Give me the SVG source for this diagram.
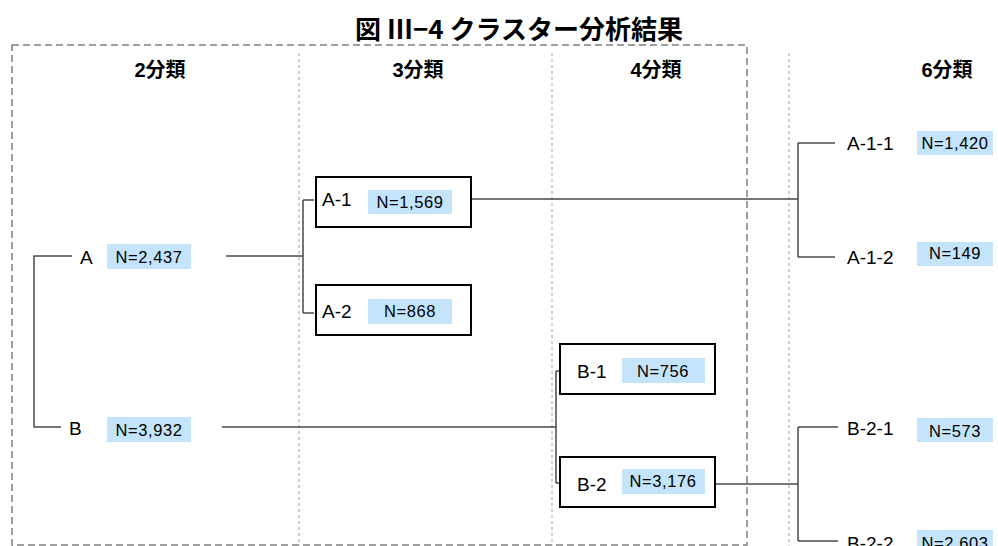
<svg xmlns="http://www.w3.org/2000/svg" width="998" height="546" viewBox="0 0 998 546">
<style>
.title{font-family:"Noto Sans CJK JP","Liberation Sans",sans-serif;font-weight:bold;font-size:26px;fill:#000}
.hdr{font-family:"Liberation Sans","Noto Sans CJK JP",sans-serif;font-weight:bold;font-size:20px;fill:#000;text-anchor:middle}
.nm{font-family:"Liberation Sans",Arial,sans-serif;font-size:19px;fill:#000}
.cnt{font-family:"Liberation Sans",Arial,sans-serif;font-size:16.5px;letter-spacing:0.6px;fill:#000;text-anchor:middle}
.lab{fill:#c3e4fb}
.box{fill:#fff;stroke:#000;stroke-width:2}
.sep{stroke:#a0a0a0;stroke-width:1;stroke-dasharray:3 3;fill:none}
.frame{stroke:#808080;stroke-width:1.5;stroke-dasharray:7 4;fill:none}
.con{stroke:#4a4a4a;stroke-width:1.5;fill:none}
</style>
<rect width="998" height="546" fill="#fff"/>
<text class="title" x="519" y="39" text-anchor="middle">図 Ⅲ−4 クラスター分析結果</text>
<rect class="frame" x="12" y="45" width="735" height="500"/>
<g id="separators">
<line class="sep" x1="299" y1="53" x2="299" y2="546"/>
<line class="sep" x1="552" y1="53" x2="552" y2="546"/>
<line class="sep" x1="789" y1="53" x2="789" y2="546"/>
</g>
<g id="headers">
<text class="hdr" x="160" y="77">2分類</text>
<text class="hdr" x="418" y="77">3分類</text>
<text class="hdr" x="656" y="77">4分類</text>
<text class="hdr" x="947" y="77">6分類</text>
</g>
<g id="connectors">
<path class="con" d="M72,256 H34 V427 H61"/>
<path class="con" d="M226,256 H303 M303,200 V313 M314,200 H303 M314,313 H303"/>
<path class="con" d="M452,199 H798 M798,143 V257 M835,143 H798 M835,257 H798"/>
<path class="con" d="M222,427 H556 M556,371 V483 M567,371 H556 M567,483 H556"/>
<path class="con" d="M715,484 H798 M798,427 V541 M838,427 H798 M838,541 H798"/>
</g>
<g id="node-A">
<text class="nm" x="80" y="264">A</text>
<rect class="lab" x="107" y="244" width="84" height="25"/>
<text class="cnt" x="149" y="263">N=2,437</text>
</g>
<g id="node-B">
<text class="nm" x="69" y="435">B</text>
<rect class="lab" x="107" y="417" width="84" height="25"/>
<text class="cnt" x="149" y="436">N=3,932</text>
</g>
<g id="node-A-1">
<rect class="box" x="316" y="177" width="155" height="50"/>
<text class="nm" x="322" y="206">A-1</text>
<rect class="lab" x="368" y="190" width="84" height="24"/>
<text class="cnt" x="410" y="208">N=1,569</text>
</g>
<g id="node-A-2">
<rect class="box" x="316" y="285" width="155" height="50"/>
<text class="nm" x="322" y="318">A-2</text>
<rect class="lab" x="368" y="299" width="84" height="25"/>
<text class="cnt" x="410" y="317">N=868</text>
</g>
<g id="node-B-1">
<rect class="box" x="560" y="344" width="155" height="50"/>
<text class="nm" x="577" y="378">B-1</text>
<rect class="lab" x="622" y="358" width="83" height="25"/>
<text class="cnt" x="663" y="377">N=756</text>
</g>
<g id="node-B-2">
<rect class="box" x="560" y="457" width="155" height="50"/>
<text class="nm" x="577" y="491">B-2</text>
<rect class="lab" x="622" y="469" width="83" height="25"/>
<text class="cnt" x="663" y="487">N=3,176</text>
</g>
<g id="node-A-1-1">
<text class="nm" x="847" y="150">A-1-1</text>
<rect class="lab" x="917" y="131" width="76" height="24"/>
<text class="cnt" x="955" y="149">N=1,420</text>
</g>
<g id="node-A-1-2">
<text class="nm" x="847" y="264">A-1-2</text>
<rect class="lab" x="917" y="242" width="76" height="24"/>
<text class="cnt" x="955" y="259">N=149</text>
</g>
<g id="node-B-2-1">
<text class="nm" x="847" y="435">B-2-1</text>
<rect class="lab" x="917" y="418" width="76" height="24"/>
<text class="cnt" x="955" y="437">N=573</text>
</g>
<g id="node-B-2-2">
<text class="nm" x="847" y="550">B-2-2</text>
<rect class="lab" x="917" y="530" width="76" height="24"/>
<text class="cnt" x="955" y="549">N=2,603</text>
</g>
</svg>
